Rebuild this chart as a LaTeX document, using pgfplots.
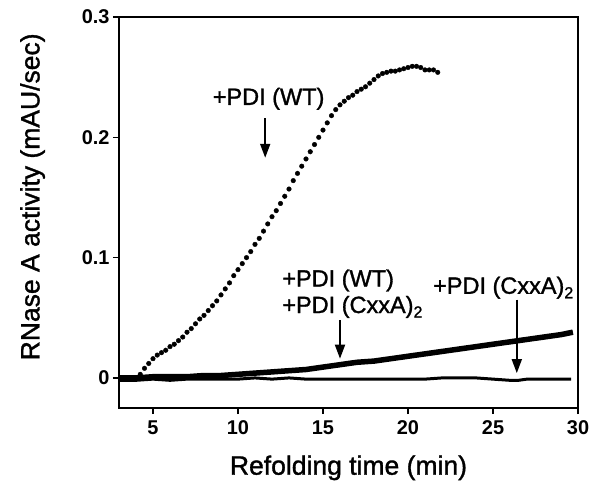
\documentclass[border=0pt]{standalone}
\usepackage{fontspec}
\setmainfont{Liberation Sans}
\font\annfont="Liberation Sans:embolden=1.3" at 23.5bp
\font\subfont="Liberation Sans:embolden=1.3" at 16bp
\font\labfont="Liberation Sans:embolden=1.3" at 26.5bp
\newcommand{\sub}[1]{\raisebox{-4.5bp}{\subfont #1}}
\usepackage{pgfplots}
\pgfplotsset{compat=1.18}
\usetikzlibrary{arrows.meta}
\begin{document}
\begin{tikzpicture}
\begin{axis}[
  scale only axis, width=459bp, height=391bp,
  at={(0,0)}, anchor=south west,
  xmin=3, xmax=30, ymin=-0.025, ymax=0.3,
  xtick={5,10,15,20,25,30}, xticklabels={5,10,15,20,25,30},
  ytick={0,0.1,0.2,0.3}, yticklabels={0,0.1,0.2,0.3},
  xtick pos=left, ytick pos=left, tick align=outside,
  major tick length=6bp,
  axis line style={line width=1.3bp},
  every tick/.style={line width=1.3bp, black},
  tick label style={font=\fontsize{20}{24}\selectfont\bfseries},
  xticklabel style={yshift=-3bp},
  label style={font=\labfont},
  xlabel={Refolding time (min)},
  ylabel={RNase A activity (mAU/sec)},
  xlabel style={yshift=-14bp},
  ylabel style={yshift=30bp, at={(ticklabel cs:0.54)}},
  clip=false,
]
% WT (dotted sigmoid)
\addplot[only marks, mark=*, mark size=2.3bp, black] coordinates {
(4.00,0.000)(4.25,0.003)(4.50,0.008)(4.75,0.012)(5.00,0.016)(5.25,0.019)
(5.50,0.021)(5.75,0.023)(6.00,0.026)(6.25,0.028)(6.50,0.031)(6.75,0.034)
(7.00,0.038)(7.25,0.041)(7.50,0.045)(7.75,0.049)(8.00,0.052)(8.25,0.056)
(8.50,0.060)(8.75,0.064)(9.00,0.069)(9.25,0.074)(9.50,0.079)(9.75,0.085)
(10.00,0.090)(10.25,0.095)(10.50,0.100)(10.75,0.105)(11.00,0.111)(11.25,0.116)
(11.50,0.122)(11.75,0.128)(12.00,0.134)(12.25,0.139)(12.50,0.145)(12.75,0.151)
(13.00,0.157)(13.25,0.164)(13.50,0.170)(13.75,0.176)(14.00,0.182)(14.25,0.188)
(14.50,0.194)(14.75,0.200)(15.00,0.206)(15.25,0.212)(15.50,0.218)(15.75,0.223)
(16.00,0.227)(16.25,0.230)(16.50,0.233)(16.75,0.235)(17.00,0.238)(17.25,0.240)
(17.50,0.242)(17.75,0.245)(18.00,0.248)(18.25,0.251)(18.50,0.253)(18.75,0.254)
(19.00,0.255)(19.25,0.255)(19.50,0.256)(19.75,0.257)(20.00,0.258)(20.25,0.259)
(20.50,0.259)(20.75,0.258)(21.00,0.256)(21.25,0.256)(21.50,0.256)(21.75,0.254)
};
% flat line (CxxA)2 alone
\addplot[black, line width=3bp] coordinates {
(3,-0.002)(4,-0.002)(5,-0.001)(6,-0.002)(7,-0.001)(8,-0.001)(9,-0.001)(10,-0.001)
(11,0.000)(12,-0.001)(13,0.000)(14,-0.001)(15,-0.001)(16,-0.001)(17,-0.001)
(18,-0.001)(19,-0.001)(20,-0.001)(21,-0.001)(22,0.000)(23,0.000)(24,0.000)
(25,-0.001)(26,-0.002)(26.5,-0.002)(27,-0.001)(28,-0.001)(29,-0.001)(29.6,-0.001)
};
% WT + (CxxA)2 thick line
\addplot[black, line width=5.5bp] coordinates {
(3,0.000)(4,0.000)(5,0.001)(6,0.001)(7,0.001)(8,0.002)(9,0.002)(10,0.003)
(11,0.004)(12,0.005)(13,0.006)(14,0.007)(15,0.009)(16,0.011)(17,0.013)
(18,0.014)(19,0.016)(20,0.018)(21,0.020)(22,0.022)(23,0.024)(24,0.026)
(25,0.028)(26,0.030)(27,0.032)(28,0.034)(29,0.036)(29.7,0.038)
};
% annotations
\node[font=\annfont] at (axis cs:11.8,0.232) {+PDI (WT)};
\draw[line width=1.8bp, -{Triangle[width=10bp,length=14bp]}] (axis cs:11.6,0.216) -- (axis cs:11.6,0.183);
\node[font=\annfont, anchor=west] at (axis cs:12.4,0.081) {+PDI (WT)};
\node[font=\annfont, anchor=west] at (axis cs:12.4,0.059) {+PDI (CxxA)\sub{2}};
\draw[line width=1.8bp, -{Triangle[width=10bp,length=14bp]}] (axis cs:16.0,0.048) -- (axis cs:16.0,0.016);
\node[font=\annfont] at (axis cs:25.6,0.075) {+PDI (CxxA)\sub{2}};
\draw[line width=1.8bp, -{Triangle[width=10bp,length=14bp]}] (axis cs:26.4,0.065) -- (axis cs:26.4,0.004);
\end{axis}
\pgfresetboundingbox
\path (-119bp,-83bp) rectangle (471bp,408bp);
\end{tikzpicture}
\end{document}
